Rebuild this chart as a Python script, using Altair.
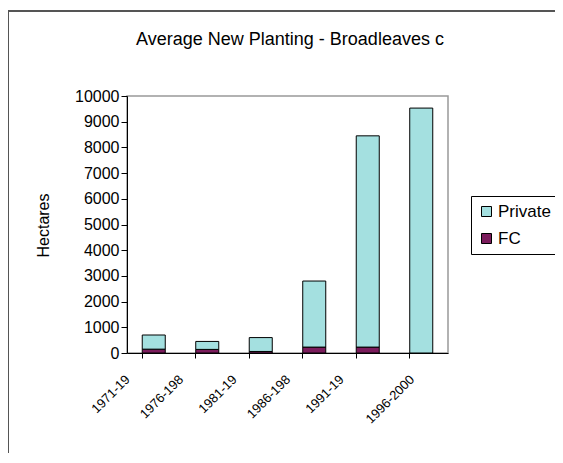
import altair as alt
import pandas as pd

periods = ["1971-1975", "1976-1980", "1981-1985", "1986-1990", "1991-1995", "1996-2000"]
shown_labels = ["1971-19", "1976-198", "1981-19", "1986-198", "1991-19", "1996-2000"]
fc = [150, 140, 60, 230, 230, 0]
private = [550, 310, 540, 2570, 8220, 9530]
series = ["Private", "FC"]
colors = ["#A4E0E0", "#7B1C5C"]
title_text = "Average New Planting - Broadleaves c"

rows = []
for p, f, pr in zip(periods, fc, private):
    rows.append({"Period": p, "Owner": "FC", "Hectares": f, "ord": 0})
    rows.append({"Period": p, "Owner": "Private", "Hectares": pr, "ord": 1})
df = pd.DataFrame(rows)

label_map = "{" + ",".join(f"'{p}':'{s}'" for p, s in zip(periods, shown_labels)) + "}"

bars = alt.Chart(df).mark_bar(stroke="black", strokeWidth=1).encode(
    x=alt.X("Period:N", sort=periods, title=None,
            scale=alt.Scale(paddingInner=0.57, paddingOuter=0.285),
            axis=alt.Axis(labelAngle=-45, labelAlign="right", labelBaseline="middle",
                          bandPosition=0, labelFontSize=13, labelPadding=19,
                          tickSize=5, labelExpr=f"{label_map}[datum.value]",
                          labelOffset={"condition": {"test": "datum.value == '1996-2000'", "value": -9}, "value": -26})),
    y=alt.Y("Hectares:Q", stack="zero", title="Hectares",
            scale=alt.Scale(domain=[0, 10000], nice=False),
            axis=alt.Axis(values=list(range(0, 10001, 1000)), format="d", grid=False,
                          tickSize=6, labelPadding=2, labelFontSize=16,
                          titleFontSize=16, titleFontWeight="normal",
                          titleX=-84, titleY=129, titleAlign="center", titleBaseline="middle", titleAngle=-90)),
    color=alt.Color("Owner:N", sort=series, scale=alt.Scale(domain=series, range=colors),
                    legend=alt.Legend(title=None, orient="none", legendX=344, legendY=100,
                                      strokeColor="black", fillColor="white", padding=7,
                                      symbolType="square", symbolSize=100,
                                      symbolStrokeColor="black", symbolStrokeWidth=1,
                                      symbolOpacity=1, labelFontSize=17, rowPadding=9,
                                      labelOffset=3, labelLimit=200)),
    order=alt.Order("ord:Q"),
)

frame_df = pd.DataFrame({"k": [0]})
left_line = alt.Chart(frame_df).mark_rule(color="#555555", strokeWidth=2).encode(
    x=alt.value(-119), y=alt.value(-85), y2=alt.value(380))
top_line = alt.Chart(frame_df).mark_rule(color="#555555", strokeWidth=2).encode(
    x=alt.value(-119), x2=alt.value(450), y=alt.value(-85))
title = alt.Chart(pd.DataFrame({"t": [title_text]})).mark_text(
    fontSize=18, align="center", baseline="alphabetic", color="black").encode(
    text="t:N", x=alt.value(163), y=alt.value(-51))

chart = alt.layer(bars, left_line, top_line, title).properties(
    width=321, height=257,
    autosize=alt.AutoSizeParams(type="none"),
    padding={"left": 119, "top": 88, "right": 107, "bottom": 100},
).configure(font="Liberation Sans").configure_axis(
    domainColor="black", tickColor="black", labelColor="black", titleColor="black",
    domainWidth=1, tickWidth=1,
).configure_view(stroke="#999999", strokeWidth=1.5).configure_legend(labelColor="black")

chart.save("out.html", embed_options={"renderer": "svg", "actions": False})
